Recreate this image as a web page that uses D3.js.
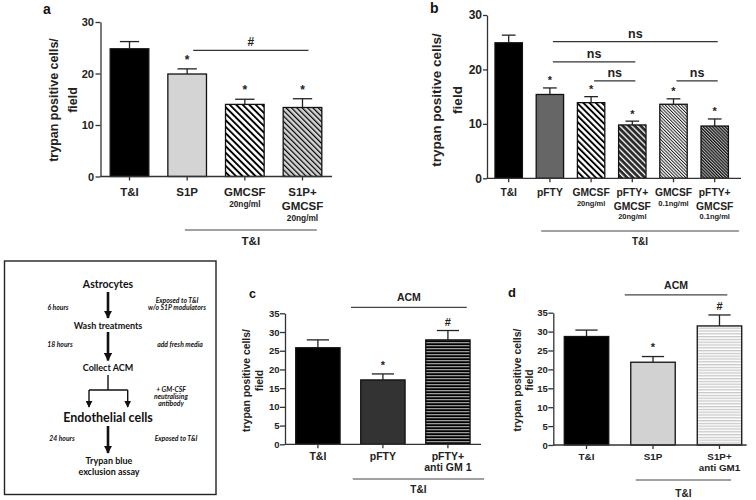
<!DOCTYPE html>
<html><head><meta charset="utf-8">
<script src="https://cdn.jsdelivr.net/npm/d3@7"></script>
<style>body{margin:0;background:#fff;} svg{display:block;}</style>
</head><body>
<svg id="chart" width="756" height="500"></svg>
<script>
// ---------- DATA ----------
// Panel a
const aLabels = [["T&I"], ["S1P"], ["GMCSF", "20ng/ml"], ["S1P+", "GMCSF", "20ng/ml"]];
const aMeans = [24.8, 19.9, 14.0, 13.4];
const aSEM = [1.4, 1.0, 1.0, 1.7];
const aMarks = ["", "*", "*", "*"];
const aTicks = [0, 10, 20, 30];
const aComparisons = [{from: 1, to: 3, label: "#", level: 24.5}];
const aGroup = {from: 1, to: 3, label: "T&I"};

// Panel b
const bLabels = [["T&I"], ["pFTY"], ["GMCSF", "20ng/ml"], ["pFTY+", "GMCSF", "20ng/ml"], ["GMCSF", "0.1ng/ml"], ["pFTY+", "GMCSF", "0.1ng/ml"]];
const bMeans = [24.9, 15.4, 13.9, 9.8, 13.6, 9.6];
const bSEM = [1.4, 1.2, 1.1, 0.7, 1.0, 1.3];
const bMarks = ["", "*", "*", "*", "*", "*"];
const bTicks = [0, 10, 20, 30];
const bComparisons = [
  {from: 1, to: 5, label: "ns", level: 25.1},
  {from: 1, to: 3, label: "ns", level: 21.4},
  {from: 2, to: 3, label: "ns", level: 17.9},
  {from: 4, to: 5, label: "ns", level: 17.9}
];
const bGroup = {from: 1, to: 5, label: "T&I"};

// Panel c
const cLabels = [["T&I"], ["pFTY"], ["pFTY+", "anti GM 1"]];
const cMeans = [25.8, 17.2, 27.9];
const cSEM = [2.1, 1.6, 2.5];
const cMarks = ["", "*", "#"];
const cTicks = [0, 5, 10, 15, 20, 25, 30, 35];
const cTopGroup = {from: 1, to: 2, label: "ACM", level: 36.6};
const cGroup = {from: 1, to: 2, label: "T&I"};

// Panel d
const dLabels = [["T&I"], ["S1P"], ["S1P+", "anti GM1"]];
const dMeans = [28.7, 21.9, 31.5];
const dSEM = [1.7, 1.5, 2.9];
const dMarks = ["", "*", "#"];
const dTicks = [0, 5, 10, 15, 20, 25, 30, 35];
const dTopGroup = {from: 1, to: 2, label: "ACM", level: 39.7};
const dGroup = {from: 1, to: 2, label: "T&I"};

// Flow diagram text
const flowSteps = ["Astrocytes", "Wash treatments", "Collect ACM", "Endothelial cells", "Trypan blue", "exclusion assay"];
const flowTimes = ["6 hours", "18 hours", "24 hours"];
const flowNotes = [["Exposed  to T&I", "w/o S1P modulators"], ["add fresh media"], ["+ GM-CSF", "neutralising", "antibody"], ["Exposed  to T&I"]];

// ---------- DRAWING ----------
const svg = d3.select("#chart");
const defs = svg.append("defs");
const FONT = "'Liberation Sans', Arial, sans-serif";
const AX = "#333";

function stripe(id, bg, fg, period, w, angle) {
  const p = defs.append("pattern").attr("id", id).attr("patternUnits", "userSpaceOnUse")
    .attr("width", period).attr("height", period).attr("patternTransform", `rotate(${angle})`);
  p.append("rect").attr("width", period).attr("height", period).attr("fill", bg);
  p.append("rect").attr("width", w).attr("height", period).attr("fill", fg);
}
stripe("pA3", "#fff", "#000", 4.6, 1.9, -45);
stripe("pA4", "#d4d4d4", "#000", 3.8, 1.2, -45);
stripe("pB3", "#fff", "#000", 4.4, 1.9, -45);
stripe("pB4", "#2a2a2a", "#fff", 4.2, 1.3, -45);
stripe("pB5", "#fff", "#222", 2.3, 1.0, -45);
stripe("pB6", "#bbb", "#111", 2.2, 1.2, -45);
stripe("pC3", "#000", "#9a9a9a", 3.0, 1.3, 90);
stripe("pD3", "#fff", "#c8c8c8", 2.8, 1.3, 90);

function panel(cfg) {
  const g = svg.append("g");
  const idx = cfg.means.map((d, i) => i);
  const x = d3.scaleBand().domain(idx).range(cfg.xRange)
    .paddingInner(cfg.pi).paddingOuter(cfg.po);
  const y = d3.scaleLinear().domain([0, cfg.ticks[cfg.ticks.length - 1]]).range(cfg.yRange);
  const bw = x.bandwidth();

  // bars
  g.selectAll("rect.bar").data(idx).join("rect")
    .attr("x", i => x(i)).attr("width", bw)
    .attr("y", i => y(cfg.means[i])).attr("height", i => y(0) - y(cfg.means[i]))
    .attr("fill", i => cfg.fills[i]).attr("stroke", "#111").attr("stroke-width", 1.3);

  // error bars (upper)
  const eg = g.append("g").attr("stroke", "#222").attr("stroke-width", 1.3);
  idx.forEach(i => {
    const cx = x(i) + bw / 2, top = y(cfg.means[i] + cfg.sem[i]);
    eg.append("line").attr("x1", cx).attr("x2", cx).attr("y1", y(cfg.means[i])).attr("y2", top);
    eg.append("line").attr("x1", cx - bw / 4).attr("x2", cx + bw / 4).attr("y1", top).attr("y2", top);
    if (cfg.marks[i]) {
      const isStar = cfg.marks[i] === "*";
      g.append("text").attr("x", cx).attr("y", top - (isStar ? cfg.starOff : cfg.hashOff))
        .attr("text-anchor", "middle").attr("font-family", FONT).attr("font-weight", "bold")
        .attr("font-size", isStar ? cfg.starSize : cfg.hashSize).attr("fill", "#222")
        .text(cfg.marks[i]);
    }
  });

  // y axis
  const ya = g.append("g").attr("transform", `translate(${cfg.xRange[0]},0)`)
    .call(d3.axisLeft(y).tickValues(cfg.ticks).tickSize(cfg.tickLen).tickPadding(cfg.tickPad).tickSizeOuter(0));
  ya.selectAll("path,line").attr("stroke", AX).attr("stroke-width", 1.3);
  ya.selectAll("text").attr("font-family", FONT).attr("font-weight", "bold")
    .attr("font-size", cfg.tickSize).attr("fill", "#222");

  // x axis
  const xa = g.append("g").attr("transform", `translate(0,${y(0)})`)
    .call(d3.axisBottom(x).tickSize(4).tickFormat(""));
  xa.select(".domain").remove();
  xa.selectAll("line").attr("stroke", AX).attr("stroke-width", 1.3);
  g.append("line").attr("x1", cfg.xRange[0]).attr("x2", cfg.axisEnd).attr("y1", y(0)).attr("y2", y(0))
    .attr("stroke", AX).attr("stroke-width", 1.3);

  // category labels
  idx.forEach(i => {
    let yy = cfg.labelY;
    cfg.labels[i].forEach((t, k) => {
      const sub = /ng\/ml/.test(t);
      if (k > 0) yy += sub ? cfg.subStep : cfg.mainStep;
      g.append("text").attr("x", x(i) + bw / 2).attr("y", yy).attr("text-anchor", "middle")
        .attr("font-family", FONT).attr("font-weight", "bold")
        .attr("font-size", sub ? cfg.subSize : cfg.labelSize).attr("fill", "#222").text(t);
    });
  });

  // bottom group bracket
  const gb = cfg.group;
  const gx0 = x(gb.from) + cfg.groupDx[0], gx1 = x(gb.to) + bw + cfg.groupDx[1];
  g.append("line").attr("x1", gx0).attr("x2", gx1).attr("y1", cfg.groupY).attr("y2", cfg.groupY)
    .attr("stroke", "#444").attr("stroke-width", 1.2);
  g.append("text").attr("x", (gx0 + gx1) / 2).attr("y", cfg.groupLabelY).attr("text-anchor", "middle")
    .attr("font-family", FONT).attr("font-weight", "bold").attr("font-size", cfg.groupSize)
    .attr("fill", "#222").text(gb.label);

  // comparisons
  (cfg.comparisons || []).forEach(c => {
    const x0 = x(c.from) + bw / 2 + (cfg.cmpDx || 0), x1 = x(c.to) + bw / 2 + (cfg.cmpDx || 0);
    const yy = y(c.level);
    g.append("line").attr("x1", x0).attr("x2", x1).attr("y1", yy).attr("y2", yy)
      .attr("stroke", "#333").attr("stroke-width", 1.2);
    g.append("text").attr("x", (x0 + x1) / 2).attr("y", yy - 4).attr("text-anchor", "middle")
      .attr("font-family", FONT).attr("font-weight", "bold").attr("font-size", cfg.cmpSize)
      .attr("fill", "#222").text(c.label);
  });

  // top ACM group
  if (cfg.topGroup) {
    const t = cfg.topGroup;
    const x0 = x(t.from) + cfg.topDx[0], x1 = x(t.to) + bw + cfg.topDx[1];
    const yy = y(t.level);
    g.append("line").attr("x1", x0).attr("x2", x1).attr("y1", yy).attr("y2", yy)
      .attr("stroke", "#444").attr("stroke-width", 1.2);
    g.append("text").attr("x", (x0 + x1) / 2).attr("y", yy - 6).attr("text-anchor", "middle")
      .attr("font-family", FONT).attr("font-weight", "bold").attr("font-size", cfg.groupSize + 0.5)
      .attr("fill", "#222").text(t.label);
  }

  // y label
  const yl = cfg.yLabel;
  [["trypan positive cells/", yl.x1], ["field", yl.x2]].forEach(([t, bx]) => {
    g.append("text").attr("transform", `translate(${bx},${yl.cy}) rotate(-90)`)
      .attr("text-anchor", "middle").attr("font-family", FONT).attr("font-weight", "bold")
      .attr("font-size", yl.size).attr("fill", "#222").text(t);
  });

  // panel letter
  g.append("text").attr("x", cfg.letter[1]).attr("y", cfg.letter[2]).attr("font-family", FONT)
    .attr("font-weight", "bold").attr("font-size", cfg.letter[3]).attr("fill", "#111").text(cfg.letter[0]);
}

panel({
  means: aMeans, sem: aSEM, marks: aMarks, labels: aLabels, ticks: aTicks,
  fills: ["#000", "#d4d4d4", "url(#pA3)", "url(#pA4)"],
  xRange: [100.5, 331.5], pi: 0.33, po: 0.168, yRange: [176.5, 22], axisEnd: 332,
  tickLen: 5, tickPad: 1.5, tickSize: 11,
  labelY: 196, mainStep: 14, subStep: 10.5, labelSize: 11.5, subSize: 8.3,
  group: aGroup, groupDx: [17, -5], groupY: 230, groupLabelY: 245, groupSize: 11.5,
  comparisons: aComparisons, cmpSize: 12, cmpDx: 6,
  starOff: 5, hashOff: 4, starSize: 12, hashSize: 12,
  yLabel: {x1: 57.5, x2: 77, cy: 100, size: 12.5},
  letter: ["a", 43, 14, 14]
});

panel({
  means: bMeans, sem: bSEM, marks: bMarks, labels: bLabels, ticks: bTicks,
  fills: ["#000", "#666", "url(#pB3)", "url(#pB4)", "url(#pB5)", "url(#pB6)"],
  xRange: [487, 736.4], pi: 0.335, po: 0.194, yRange: [178.3, 15], axisEnd: 741,
  tickLen: 4, tickPad: 1, tickSize: 12,
  labelY: 196, mainStep: 13.5, subStep: 9.5, labelSize: 10.3, subSize: 7.5,
  group: bGroup, groupDx: [5, 10.5], groupY: 231, groupLabelY: 245, groupSize: 10,
  comparisons: bComparisons, cmpSize: 12.5, cmpDx: 3,
  starOff: 3.5, hashOff: 4, starSize: 11, hashSize: 11,
  yLabel: {x1: 441, x2: 461.5, cy: 100, size: 13.5},
  letter: ["b", 430, 13, 14]
});

panel({
  means: cMeans, sem: cSEM, marks: cMarks, labels: cLabels, ticks: cTicks,
  fills: ["#000", "#333", "url(#pC3)"],
  xRange: [285, 480.8], pi: 0.318, po: 0.165, yRange: [444.3, 313.3], axisEnd: 481,
  tickLen: 5, tickPad: 0.5, tickSize: 9.5,
  labelY: 459.7, mainStep: 11, subStep: 9, labelSize: 10.5, subSize: 7.5,
  group: cGroup, groupDx: [-8, 14], groupY: 479, groupLabelY: 492.5, groupSize: 10,
  starOff: 4.5, hashOff: 4.5, starSize: 11, hashSize: 11,
  topGroup: cTopGroup, topDx: [-9.7, -3.3],
  yLabel: {x1: 250, x2: 262.7, cy: 380.5, size: 10.4},
  letter: ["c", 249, 298, 12.5]
});

panel({
  means: dMeans, sem: dSEM, marks: dMarks, labels: dLabels, ticks: dTicks,
  fills: ["#000", "#d2d2d2", "url(#pD3)"],
  xRange: [553.3, 752.7], pi: 0.331, po: 0.165, yRange: [445, 312.7], axisEnd: 746.7,
  tickLen: 5, tickPad: 0.5, tickSize: 9.5,
  labelY: 459.7, mainStep: 11, subStep: 9, labelSize: 9.8, subSize: 7.5,
  group: dGroup, groupDx: [5, -10.7], groupY: 480, groupLabelY: 496.5, groupSize: 10,
  starOff: 5.5, hashOff: 4.5, starSize: 11, hashSize: 11,
  topGroup: dTopGroup, topDx: [-6, -14.4],
  yLabel: {x1: 521, x2: 533.3, cy: 380, size: 10.4},
  letter: ["d", 508, 297, 13]
});

// ---------- FLOW DIAGRAM ----------
const fg = svg.append("g");
const FF = "Lato, 'Open Sans', sans-serif";
fg.append("rect").attr("x", 4.5).attr("y", 261).attr("width", 211.5).attr("height", 233.5)
  .attr("fill", "#fff").attr("stroke", "#222").attr("stroke-width", 1.4);

defs.append("marker").attr("id", "ah").attr("viewBox", "0 0 10 10").attr("refX", 9).attr("refY", 5)
  .attr("markerWidth", 3.2).attr("markerHeight", 3.2).attr("orient", "auto")
  .append("path").attr("d", "M0,0 L10,5 L0,10 Z").attr("fill", "#111");
defs.append("marker").attr("id", "ah2").attr("viewBox", "0 0 10 10").attr("refX", 9).attr("refY", 5)
  .attr("markerWidth", 5).attr("markerHeight", 5).attr("orient", "auto")
  .append("path").attr("d", "M0,0 L10,5 L0,10 Z").attr("fill", "#111");

const cx = 108;
function arrow(y1, y2, xx, w, m) {
  fg.append("line").attr("x1", xx).attr("x2", xx).attr("y1", y1).attr("y2", y2)
    .attr("stroke", "#111").attr("stroke-width", w).attr("marker-end", `url(#${m})`);
}
arrow(292, 318, cx, 2.6, "ah");
arrow(332, 360.5, cx, 2.6, "ah");
arrow(426, 453, cx, 2.6, "ah");
fg.append("line").attr("x1", cx).attr("x2", cx).attr("y1", 375).attr("y2", 390).attr("stroke", "#111").attr("stroke-width", 1.4);
fg.append("line").attr("x1", 89).attr("x2", 127.7).attr("y1", 390).attr("y2", 390).attr("stroke", "#111").attr("stroke-width", 1.4);
arrow(390, 407, 89, 1.4, "ah2");
arrow(390, 407, 127.7, 1.4, "ah2");

function ftext(t, x, y, size, italic, anchor) {
  fg.append("text").attr("x", x).attr("y", y).attr("text-anchor", anchor || "middle")
    .attr("font-family", FF).attr("font-weight", "bold").attr("font-style", italic ? "italic" : "normal")
    .attr("font-size", size).attr("fill", "#111").text(t);
}
ftext(flowSteps[0], cx, 288, 10.5);
ftext(flowSteps[1], cx, 329, 9);
ftext(flowSteps[2], cx, 370.5, 9);
ftext(flowSteps[3], cx, 422, 12.5);
ftext(flowSteps[4], 109, 464, 9);
ftext(flowSteps[5], 109, 474.7, 9);

ftext(flowTimes[0], 58, 309.5, 6.8, true);
ftext(flowTimes[1], 60, 346.5, 6.8, true);
ftext(flowTimes[2], 62, 440.5, 6.8, true);

ftext(flowNotes[0][0], 177, 302.5, 6.8, true);
ftext(flowNotes[0][1], 177, 310, 6.8, true);
ftext(flowNotes[1][0], 180, 346.5, 6.8, true);
ftext(flowNotes[2][0], 171, 391.5, 6.8, true);
ftext(flowNotes[2][1], 171, 398.5, 6.8, true);
ftext(flowNotes[2][2], 171, 405.8, 6.8, true);
ftext(flowNotes[3][0], 176, 440.5, 6.8, true);
</script>
</body></html>
